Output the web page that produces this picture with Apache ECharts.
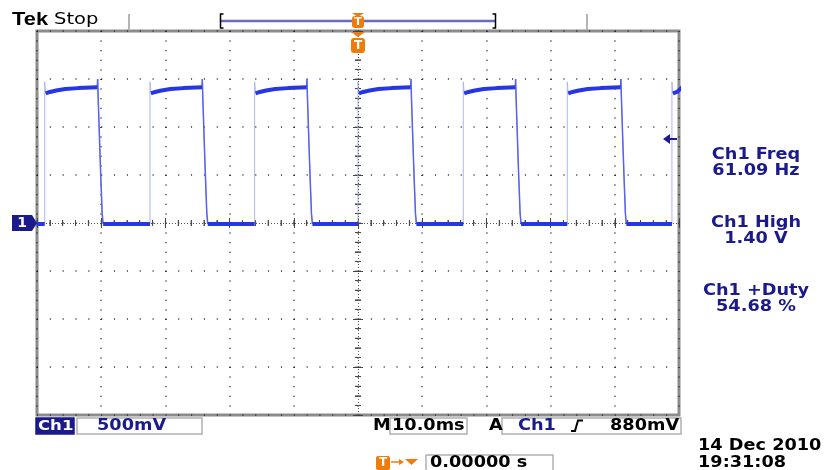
<!DOCTYPE html>
<html>
<head>
<meta charset="utf-8">
<script src="https://cdn.jsdelivr.net/npm/echarts@6/dist/echarts.min.js"></script>
<style>
html, body { margin: 0; padding: 0; background: #fff; }
#chart { width: 829px; height: 470px; }
</style>
</head>
<body>
<div id="chart"></div>
<script>
// 10 ms/div, 500 mV/div, trigger at t = 0
const timeRange = [-50, 50];
const voltRange = [-2, 2];
const riseTimes = [-48.8, -32.4, -16.1, 0, 16.4, 32.6, 48.9];
const fallTimes = [-40.6, -24.3, -8.0, 8.2, 24.5, 40.9];
const lowLevel = -0.01;
const riseTop = 1.47;
const highEnd = 1.415;
// [ms after rising edge, V]
const highShape = [[0.15, 1.35], [0.8, 1.365], [1.8, 1.38], [3.2, 1.395], [5.2, 1.405]];
// [ms after falling edge, V]
const fallShape = [[0.05, 1.5], [0.12, 1.32], [0.3, 0.95], [0.5, 0.55], [0.75, 0.1], [0.9, lowLevel]];
const triggerLevel = 0.88;

const measLabels = ['Ch1 Freq', 'Ch1 High', 'Ch1 +Duty'];
const measValues = ['61.09 Hz', '1.40 V', '54.68 %'];

// build the trace pieces
const full = [[timeRange[0], lowLevel]];
const highSeg = [];
const lowSeg = [[timeRange[0], lowLevel]];
const fallSeg = [];
riseTimes.forEach(function (r, i) {
  lowSeg.push([r, lowLevel], '-');
  full.push([r, lowLevel], [r, riseTop]);
  const f = fallTimes[i];
  const end = f !== undefined ? f : timeRange[1] + 0.5;
  highShape.forEach(function (p) {
    if (r + p[0] < end) {
      highSeg.push([r + p[0], p[1]]);
      full.push([r + p[0], p[1]]);
    }
  });
  highSeg.push([end, highEnd], '-');
  full.push([end, highEnd]);
  if (f === undefined) return;
  fallSeg.push([f, highEnd]);
  fallShape.forEach(function (p) {
    fallSeg.push([f + p[0], p[1]]);
    full.push([f + p[0], p[1]]);
  });
  fallSeg.push('-');
  lowSeg.push([f + 0.9, lowLevel]);
});
lowSeg.push([timeRange[1], lowLevel]);

// little crosses along the centre lines
const centreTicksX = [];
for (let t = timeRange[0]; t <= timeRange[1]; t += 2) centreTicksX.push([t, 0]);
const centreTicksY = [];
for (let v = voltRange[0]; v <= voltRange[1] + 0.001; v += 0.1) centreTicksY.push([0, +v.toFixed(2)]);

const orange = '#f07a0a';
const navy = '#1a1a8c';
const FONT = 'bold 15px "DejaVu Sans"';

function txt(x, y, text, color, align, font, sx) {
  return {
    type: 'text', x: x, y: y, scaleX: sx || 1.18, z: 100, silent: true,
    style: {
      text: text, fill: color || '#000', font: font || FONT,
      textAlign: align || 'left', textVerticalAlign: 'middle'
    }
  };
}
function box(x, y, w, h, fill, stroke) {
  return {
    type: 'rect', z: 90, silent: true,
    shape: { x: x, y: y, width: w, height: h },
    style: { fill: fill || '#fff', stroke: stroke || '#b0b0b0', lineWidth: 1.5 }
  };
}
function line(points, color, width) {
  return {
    type: 'polyline', z: 95, silent: true,
    shape: { points: points },
    style: { stroke: color, lineWidth: width || 1.5, fill: null }
  };
}
function poly(points, color) {
  return { type: 'polygon', z: 95, silent: true, shape: { points: points }, style: { fill: color } };
}

const graphics = [
  // top status bar
  txt(12, 20, 'Tek', '#000', 'left', 'bold 19px "Liberation Sans"', 1.15),
  txt(54, 20.5, 'Stop', '#000', 'left', '15px "DejaVu Sans"', 1.3),
  line([[129, 14], [129, 30]], '#b4b4b4', 2),
  line([[587, 14], [587, 30]], '#b4b4b4', 2),
  line([[221, 21], [495, 21]], '#6b6bbd', 2.5),
  line([[223.5, 14], [220.5, 14], [220.5, 28], [223.5, 28]], '#000', 1.5),
  line([[492.5, 14], [495.5, 14], [495.5, 28], [492.5, 28]], '#000', 1.5),
  poly([[352, 13], [364, 13], [358, 17]], orange),
  { type: 'rect', z: 96, silent: true, shape: { x: 352, y: 16, width: 12, height: 12, r: 3 }, style: { fill: orange } },
  txt(358, 22.5, 'T', '#fff', 'center', 'bold 11px "DejaVu Sans"', 1),
  poly([[351, 32], [365, 32], [358, 37]], orange),
  { type: 'rect', z: 96, silent: true, shape: { x: 351, y: 38, width: 14, height: 15, r: 3 }, style: { fill: orange } },
  txt(358, 45.5, 'T', '#fff', 'center', 'bold 12px "DejaVu Sans"', 1),
  // channel marker and trigger level
  poly([[12, 215], [32, 215], [37, 223], [32, 231], [12, 231]], navy),
  txt(22, 223, '1', '#fff', 'center', 'bold 14px "DejaVu Sans"', 1),
  poly([[663, 139], [670, 134], [670, 144]], navy),
  line([[669, 139], [677, 139]], navy, 2),
  // bottom status line
  box(36, 418, 38, 16, navy, navy),
  txt(38, 426, 'Ch1', '#fff', 'left', 'bold 14px "DejaVu Sans"'),
  box(77, 418, 125, 16),
  txt(97, 426, '500mV', navy),
  txt(373, 426, 'M', '#000'),
  box(390, 418, 77, 16),
  txt(392, 426, '10.0ms', '#000'),
  txt(489, 426, 'A', '#000'),
  box(502, 418, 179, 16),
  txt(518, 426, 'Ch1', navy),
  line([[571, 431], [575, 431], [578, 420.5], [583, 420.5]], '#000', 2),
  txt(610, 426, '880mV', '#000'),
  // delay
  { type: 'rect', z: 96, silent: true, shape: { x: 376, y: 456, width: 14, height: 14, r: 2 }, style: { fill: orange } },
  txt(383, 463, 'T', '#fff', 'center', 'bold 12px "DejaVu Sans"', 1),
  line([[391, 462], [401, 462]], orange, 1.5),
  poly([[399, 459], [404, 462], [399, 465]], orange),
  poly([[405, 459], [418, 459], [411.5, 465]], orange),
  box(426, 455, 127, 17),
  txt(430, 463, '0.00000 s', '#000'),
  // date
  txt(698, 446.5, '14 Dec 2010', '#000'),
  txt(698, 463, '19:31:08', '#000')
];
const measY = [155, 223.5, 291.5];
measLabels.forEach(function (s, i) {
  graphics.push(txt(756, measY[i], s, navy, 'center'));
  graphics.push(txt(756, measY[i] + 16, measValues[i], navy, 'center'));
});

function xAx(pos, split) {
  return {
    type: 'value', position: pos, min: timeRange[0], max: timeRange[1], interval: 10,
    axisLine: { show: false },
    axisTick: { show: true, inside: true, length: 5, lineStyle: { color: '#444' } },
    minorTick: { show: true, splitNumber: 5, length: 3, lineStyle: { color: '#555' } },
    axisLabel: { show: false },
    splitLine: { show: split, lineStyle: { color: '#222', width: 1.5, type: [1, 8.6] } }
  };
}
function yAx(pos, split) {
  return {
    type: 'value', position: pos, min: voltRange[0], max: voltRange[1], interval: 0.5,
    axisLine: { show: false },
    axisTick: { show: true, inside: true, length: 5, lineStyle: { color: '#444' } },
    minorTick: { show: true, splitNumber: 5, length: 3, lineStyle: { color: '#555' } },
    axisLabel: { show: false },
    splitLine: { show: split, lineStyle: { color: '#222', width: 1.5, type: [1, 11.84] } }
  };
}

const chart = echarts.init(document.getElementById('chart'), null, { renderer: 'canvas' });
chart.setOption({
  animation: false,
  backgroundColor: '#fff',
  grid: {
    left: 37, top: 31, width: 642, height: 384,
    show: true, backgroundColor: 'transparent', borderColor: '#8c8c8c', borderWidth: 3
  },
  xAxis: [xAx('bottom', true), xAx('top', false)],
  yAxis: [yAx('left', true), yAx('right', false)],
  graphic: graphics,
  series: [
    {
      name: 'centre-x', type: 'scatter', data: centreTicksX, symbol: 'rect', symbolSize: [1, 6],
      itemStyle: { color: '#444' }, silent: true, z: 1,
      markLine: {
        silent: true, symbol: 'none', label: { show: false },
        lineStyle: { color: '#555', width: 1, type: [1, 2] },
        data: [{ xAxis: 0 }, { yAxis: 0 }]
      }
    },
    {
      name: 'centre-y', type: 'scatter', data: centreTicksY, symbol: 'rect', symbolSize: [6, 1],
      itemStyle: { color: '#444' }, silent: true, z: 1
    },
    {
      name: 'trace', type: 'line', data: full, showSymbol: false, sampling: 'none',
      lineStyle: { color: '#aeb5f7', width: 1 }, z: 3
    },
    {
      name: 'fall', type: 'line', data: fallSeg, showSymbol: false,
      lineStyle: { color: '#5563ee', width: 1.5 }, z: 4
    },
    {
      name: 'high', type: 'line', data: highSeg, showSymbol: false,
      lineStyle: { color: '#2636e4', width: 4 }, z: 5
    },
    {
      name: 'low', type: 'line', data: lowSeg, showSymbol: false,
      lineStyle: { color: '#2636e4', width: 4 }, z: 5
    }
  ]
});
</script>
</body>
</html>
